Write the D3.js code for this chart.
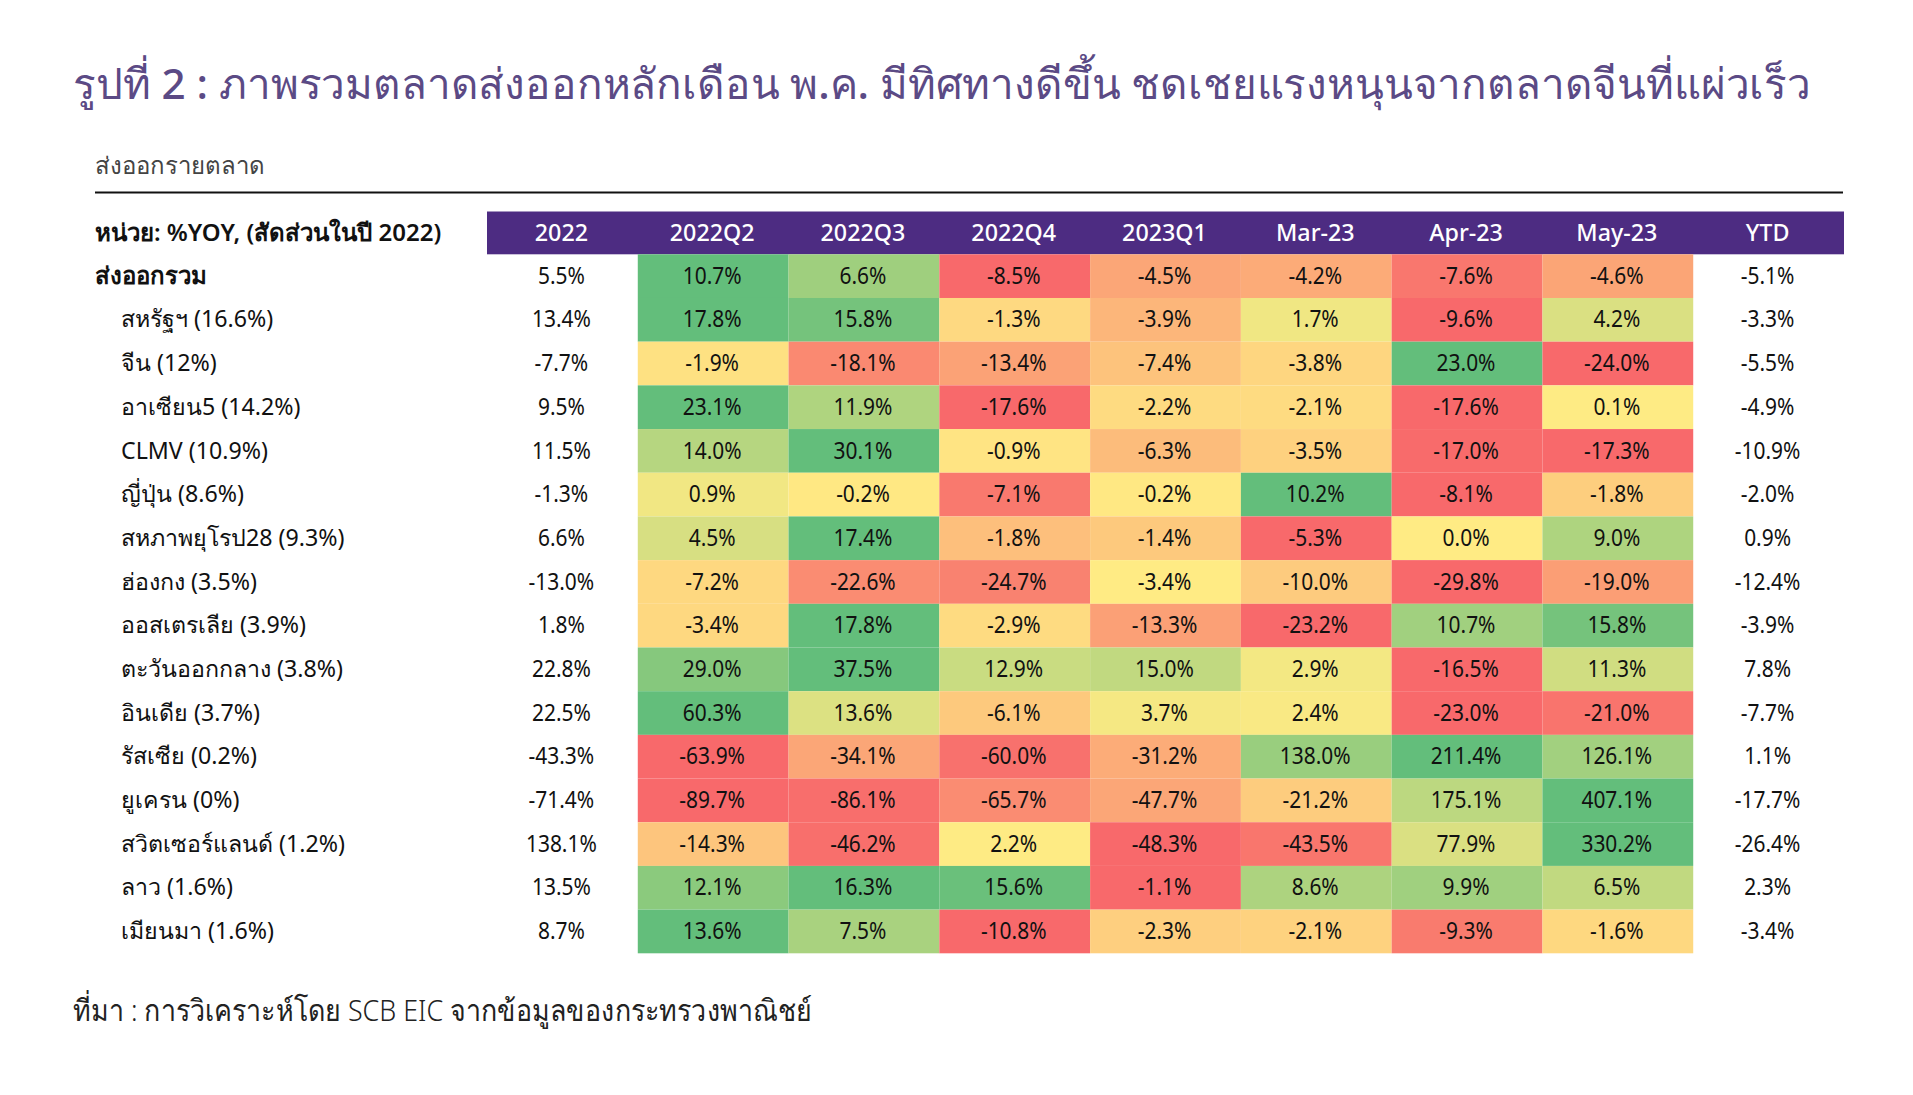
<!DOCTYPE html>
<html>
<head>
<meta charset="utf-8">
<style>
  html, body { margin: 0; padding: 0; background: #fff; }
</style>
</head>
<body>
<div id="chart"></div>
<script src="https://cdn.jsdelivr.net/npm/d3@7"></script>
<script>
// Column headers and row labels
const columns = ["2022", "2022Q2", "2022Q3", "2022Q4", "2023Q1", "Mar-23", "Apr-23", "May-23", "YTD"];
const markets = ["ส่งออกรวม", "สหรัฐฯ (16.6%)", "จีน (12%)", "อาเซียน5 (14.2%)", "CLMV (10.9%)", "ญี่ปุ่น (8.6%)",
  "สหภาพยุโรป28 (9.3%)", "ฮ่องกง (3.5%)", "ออสเตรเลีย (3.9%)", "ตะวันออกกลาง (3.8%)", "อินเดีย (3.7%)",
  "รัสเซีย (0.2%)", "ยูเครน (0%)", "สวิตเซอร์แลนด์ (1.2%)", "ลาว (1.6%)", "เมียนมา (1.6%)"];

// %YOY, one array per column
const y2022 = [5.5, 13.4, -7.7, 9.5, 11.5, -1.3, 6.6, -13.0, 1.8, 22.8, 22.5, -43.3, -71.4, 138.1, 13.5, 8.7];
const q2 = [10.7, 17.8, -1.9, 23.1, 14.0, 0.9, 4.5, -7.2, -3.4, 29.0, 60.3, -63.9, -89.7, -14.3, 12.1, 13.6];
const q3 = [6.6, 15.8, -18.1, 11.9, 30.1, -0.2, 17.4, -22.6, 17.8, 37.5, 13.6, -34.1, -86.1, -46.2, 16.3, 7.5];
const q4 = [-8.5, -1.3, -13.4, -17.6, -0.9, -7.1, -1.8, -24.7, -2.9, 12.9, -6.1, -60.0, -65.7, 2.2, 15.6, -10.8];
const q1 = [-4.5, -3.9, -7.4, -2.2, -6.3, -0.2, -1.4, -3.4, -13.3, 15.0, 3.7, -31.2, -47.7, -48.3, -1.1, -2.3];
const mar = [-4.2, 1.7, -3.8, -2.1, -3.5, 10.2, -5.3, -10.0, -23.2, 2.9, 2.4, 138.0, -21.2, -43.5, 8.6, -2.1];
const apr = [-7.6, -9.6, 23.0, -17.6, -17.0, -8.1, 0.0, -29.8, 10.7, -16.5, -23.0, 211.4, 175.1, 77.9, 9.9, -9.3];
const may = [-4.6, 4.2, -24.0, 0.1, -17.3, -1.8, 9.0, -19.0, 15.8, 11.3, -21.0, 126.1, 407.1, 330.2, 6.5, -1.6];
const ytd = [-5.1, -3.3, -5.5, -4.9, -10.9, -2.0, 0.9, -12.4, -3.9, 7.8, -7.7, 1.1, -17.7, -26.4, 2.3, -3.4];

const series = [y2022, q2, q3, q4, q1, mar, apr, may, ytd];
const heatCols = [1, 2, 3, 4, 5, 6, 7]; // 2022 and YTD stay white

const width = 1913, height = 1095;
const font = "'Noto Sans', 'Open Sans', sans-serif";

const svg = d3.select("#chart").append("svg")
  .attr("width", width)
  .attr("height", height)
  .style("display", "block");

const x = d3.scaleBand().domain(d3.range(columns.length)).range([487, 1844]);
const y = d3.scaleBand().domain(d3.range(markets.length)).range([254.3, 953.3]);

// Title
svg.append("text")
  .attr("x", 73)
  .attr("y", 99)
  .attr("font-family", font)
  .attr("font-size", 42.5)
  .attr("font-weight", 500)
  .attr("fill", "#5b4a85")
  .attr("textLength", 1738)
  .attr("lengthAdjust", "spacingAndGlyphs")
  .text("รูปที่ 2 : ภาพรวมตลาดส่งออกหลักเดือน พ.ค. มีทิศทางดีขึ้น ชดเชยแรงหนุนจากตลาดจีนที่แผ่วเร็ว");

// Subtitle and rule
svg.append("text")
  .attr("x", 95)
  .attr("y", 174)
  .attr("font-family", font)
  .attr("font-size", 24)
  .attr("fill", "#444")
  .text("ส่งออกรายตลาด");

svg.append("line")
  .attr("x1", 95).attr("x2", 1843)
  .attr("y1", 192.5).attr("y2", 192.5)
  .attr("stroke", "#111")
  .attr("stroke-width", 2);

// Header band
svg.append("rect")
  .attr("x", x.range()[0])
  .attr("y", 211.5)
  .attr("width", x.range()[1] - x.range()[0])
  .attr("height", 42.8)
  .attr("fill", "#4d2c82");

svg.append("text")
  .attr("x", 95)
  .attr("y", 240.5)
  .attr("font-family", font)
  .attr("font-size", 24)
  .attr("font-weight", 600)
  .attr("fill", "#111")
  .text("หน่วย: %YOY, (สัดส่วนในปี 2022)");

svg.selectAll(".head")
  .data(columns)
  .enter()
  .append("text")
  .attr("class", "head")
  .attr("transform", (d, i) => "translate(" + (x(i) + x.bandwidth() / 2 - 1) + ",240.5) scale(0.97,1)")
  .attr("text-anchor", "middle")
  .attr("font-family", font)
  .attr("font-size", 24)
  .attr("font-weight", 500)
  .attr("fill", "#fff")
  .text(d => d);

// Colour scale per row: red at the row minimum, yellow at zero, green at the maximum.
// A row with no positive value tops out at yellow.
function rowColor(r) {
  const vals = heatCols.map(c => series[c][r]);
  const lo = d3.min(vals), hi = d3.max(vals);
  const mid = Math.min(0, hi);
  return d3.scaleLinear()
    .domain([lo, mid, Math.max(hi, mid + 1)])
    .range(["#f8696b", "#ffeb84", "#63be7b"])
    .clamp(true);
}

const fmt = d3.formatLocale({ decimal: ".", thousands: ",", grouping: [3], currency: ["", ""], minus: "-" }).format(".1f");

markets.forEach((name, r) => {
  const color = rowColor(r);
  const g = svg.append("g").attr("transform", "translate(0," + y(r) + ")");

  g.append("text")
    .attr("x", r === 0 ? 95 : 121)
    .attr("y", 29.5)
    .attr("font-family", font)
    .attr("font-size", r === 0 ? 24 : 23.2)
    .attr("font-weight", r === 0 ? 600 : 400)
    .attr("fill", "#111")
    .text(name);

  g.selectAll("rect")
    .data(heatCols)
    .enter()
    .append("rect")
    .attr("x", c => x(c))
    .attr("width", x.bandwidth())
    .attr("height", y.bandwidth())
    .attr("fill", c => color(series[c][r]));

  g.selectAll(".val")
    .data(series)
    .enter()
    .append("text")
    .attr("class", "val")
    .attr("transform", (d, c) => "translate(" + (x(c) + x.bandwidth() / 2 - 1) + ",29.5) scale(0.91,1)")
    .attr("text-anchor", "middle")
    .attr("font-family", font)
    .attr("font-size", 23)
    .attr("fill", "#111")
    .text(d => fmt(d[r]) + "%");
});

// Source line
svg.append("text")
  .attr("x", 73)
  .attr("y", 1021)
  .attr("font-family", font)
  .attr("font-size", 30)
  .attr("font-weight", 300)
  .attr("fill", "#222")
  .attr("textLength", 739)
  .attr("lengthAdjust", "spacingAndGlyphs")
  .text("ที่มา : การวิเคราะห์โดย SCB EIC จากข้อมูลของกระทรวงพาณิชย์");
</script>
</body>
</html>
